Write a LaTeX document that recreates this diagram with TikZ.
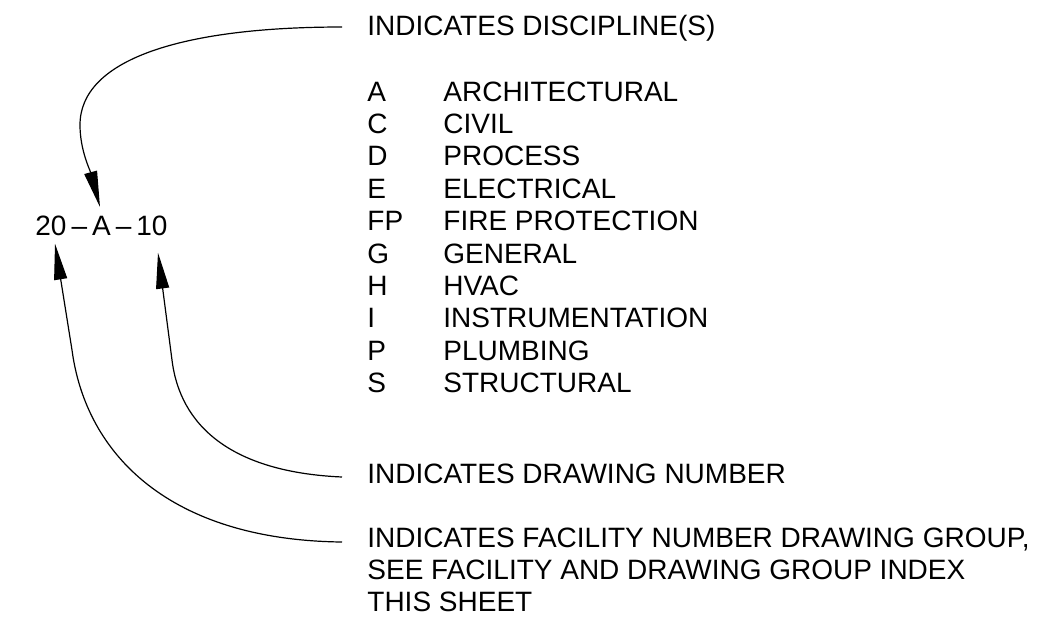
\documentclass[tikz,border=0pt]{standalone}
\usepackage{fontspec}
\setmainfont{Liberation Sans}
\usetikzlibrary{positioning,arrows.meta}

\begin{document}
\begin{tikzpicture}[x=0.5pt, y=-0.5pt, font=\fontsize{14}{16.2}\selectfont,
    note/.style={anchor=base west, inner sep=0pt},
    leader/.style={line width=0.6pt, -{Triangle[length=18pt, width=6.5pt]}}]
    \useasboundingbox (0,0) rectangle (1039,623);

    \node[note] (code) at (35,235) {20\kern2.5pt--\kern2.5pt A\kern2.5pt--\kern2.5pt 10};
    \node[note] (disc) at (367,35) {INDICATES DISCIPLINE(S)};
    \node[note] (list) at (367,101) {\begin{tabular}[t]{@{}p{38pt}@{}l@{}}
        A  & ARCHITECTURAL\\
        C  & CIVIL\\
        D  & PROCESS\\
        E  & ELECTRICAL\\
        FP & FIRE PROTECTION\\
        G  & GENERAL\\
        H  & HVAC\\
        I  & INSTRUMENTATION\\
        P  & PLUMBING\\
        S  & STRUCTURAL
    \end{tabular}};
    \node[note] (dwg) at (367,483) {INDICATES DRAWING NUMBER};
    \node[note] (fac) at (367,547) {\begin{tabular}[t]{@{}l@{}}
        INDICATES FACILITY NUMBER DRAWING GROUP,\\
        SEE FACILITY AND DRAWING GROUP INDEX\\
        THIS SHEET
    \end{tabular}};

    % leaders to the number
    \draw[leader] ([shift={(-25,-8)}]disc.base west) .. controls (180,27) and (80,60) .. (80,125)
        .. controls (80,150) and (90,170) .. ([shift={(65,-8)}]code.north west);
    \draw[leader] ([shift={(-25,-6)}]dwg.base west) .. controls (230,472) and (180,425) .. (172,360)
        -- ([shift={(123,17)}]code.south west);
    \draw[leader] ([shift={(-25,-5)}]fac.base west) .. controls (170,540) and (86,455) .. (72,350)
        -- ([shift={(20,8)}]code.south west);
\end{tikzpicture}
\end{document}
